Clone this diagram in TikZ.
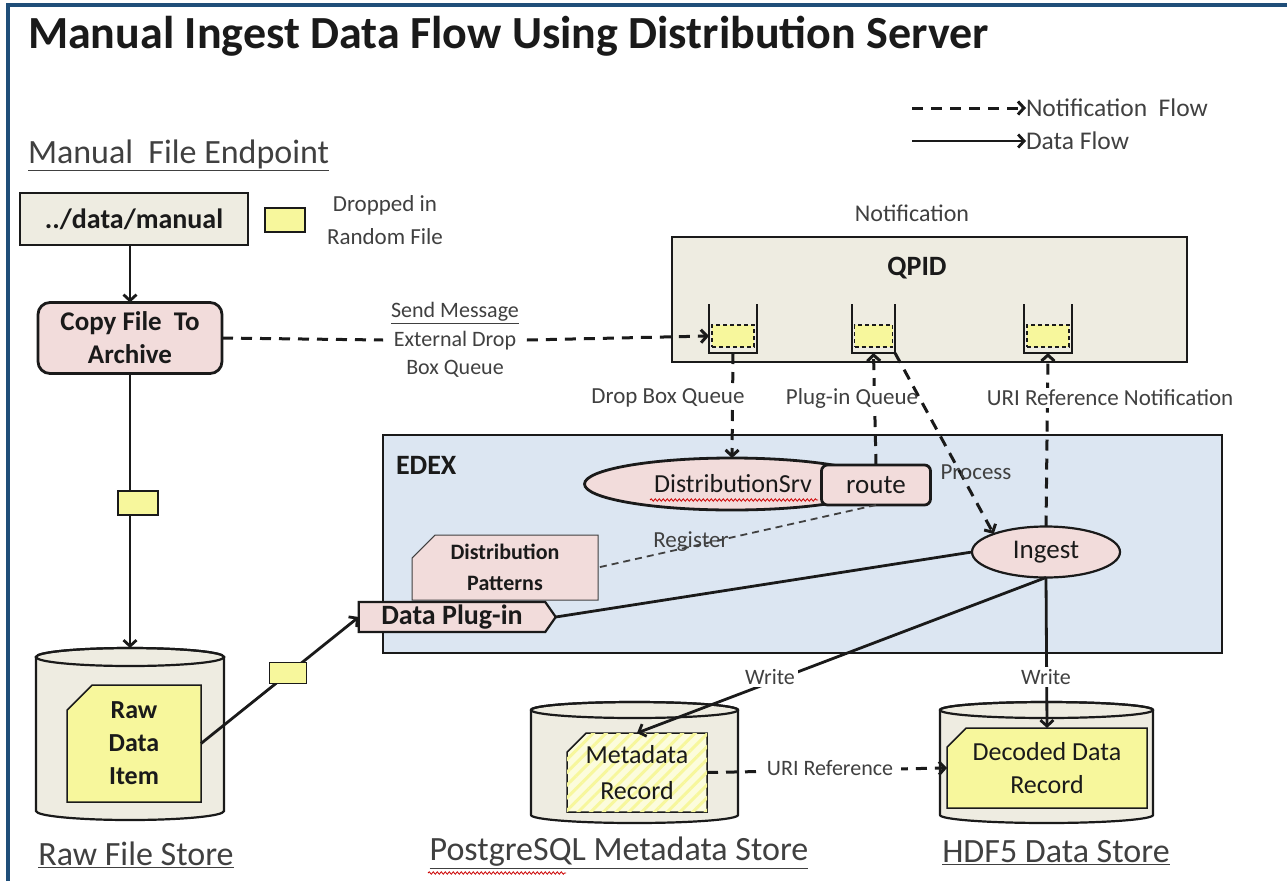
\documentclass[tikz,border=0pt]{standalone}
\usepackage{fontspec}
\setmainfont{Carlito}
\usetikzlibrary{shapes.geometric,shapes.misc,shapes.symbols,arrows.meta,patterns.meta,decorations.pathmorphing}
\definecolor{frameblue}{HTML}{1F4E79}
\definecolor{beige}{HTML}{EEECE1}
\definecolor{pinkf}{HTML}{F2DCDB}
\definecolor{edexblue}{HTML}{DCE6F2}
\definecolor{yel}{HTML}{F7F79C}
\definecolor{txt}{HTML}{404040}
\definecolor{dark}{HTML}{1A1A1A}
\newcommand\fsz[2]{\fontsize{#1pt}{#2pt}\selectfont}
\newcommand\drawcyl[5]{%
  \pgfmathsetmacro\cylrx{(#2-#1)/2}%
  \filldraw[cylst] (#1,#3) -- (#1,#4) arc[start angle=180,end angle=360,x radius=\cylrx pt,y radius=#5pt] -- (#2,#3) arc[start angle=0,end angle=180,x radius=\cylrx pt,y radius=#5pt] -- cycle;
  \draw[cylst,fill=none] ({(#1+#2)/2},#3) ellipse[x radius=\cylrx pt,y radius=#5pt];
}
\begin{document}
\begin{tikzpicture}[x=1pt,y=-1pt,
  every node/.style={inner sep=0pt,outer sep=0pt},
  lbl/.style={font=\fsz{23}{28}, text=txt, align=center},
  wlbl/.style={lbl, fill=white, inner xsep=3pt, inner ysep=2pt},
  bigl/.style={font=\fsz{34}{40}, text=txt},
  bbox/.style={draw=dark, line width=2pt, fill=beige, text=dark, align=center},
  pbox/.style={draw=dark, line width=2.8pt, fill=pinkf, text=dark, align=center},
  chamf/.style={chamfered rectangle, chamfered rectangle corners=north west, draw=dark, line width=1.5pt, align=center, text=dark},
  fileicon/.style={chamfered rectangle, chamfered rectangle corners=north west, chamfered rectangle xsep=7pt, draw=dark, line width=1.2pt, fill=yel, minimum width=40pt, minimum height=24pt},
  qbox/.style={minimum height=49pt},
  qline/.style={draw=dark, line width=2.8pt},
  qmsg/.style={draw=dark, dash pattern=on 4pt off 3pt, line width=1.3pt, fill=yel, minimum height=22pt},
  cylst/.style={draw=dark, line width=2.2pt, fill=beige},
  data/.style={draw=dark, line width=2.8pt},
  dataA/.style={data, -{Straight Barb[length=6pt,width=13pt]}},
  notif/.style={draw=dark, line width=3pt, dash pattern=on 11pt off 8pt},
  notifA/.style={notif, -{Straight Barb[length=6pt,width=13pt]}},
  reg/.style={draw=txt, line width=1.8pt, dash pattern=on 7pt off 5pt},
  squig/.style={draw=red!80!black, line width=0.8pt, decorate, decoration={snake, amplitude=1.2pt, segment length=4pt}}
]
\useasboundingbox (0,0) rectangle (1287,881);
\fill[white] (0,0) rectangle (1287,881);
\draw[frameblue, line width=4pt] (8,881) -- (8,5) -- (1287,5);

% titles and legend
\node[anchor=west, font=\bfseries\fsz{46}{54}, text=dark] (title) at (28,36) {Manual Ingest Data Flow Using Distribution Server};
\node[anchor=west, bigl] (mfe) at (28,155) {\underline{Manual\ \ File Endpoint}};
\coordinate (lg1) at (912,108);
\coordinate (lg2) at (912,141);
\node[anchor=west, font=\fsz{25.5}{30}, text=txt] (lgn) at (1026,108) {Notification\ \ Flow};
\node[anchor=west, font=\fsz{25.5}{30}, text=txt] (lgd) at (1026,141) {Data Flow};
\draw[notifA] (lg1) -- (lgn.west);
\draw[dataA] (lg2) -- (lgd.west);

% backgrounds
\node[draw=dark, line width=2.8pt, fill=edexblue, minimum width=839pt, minimum height=218pt] (edex) at (802.5,544) {};
\node[anchor=west, font=\bfseries\fsz{28}{34}, text=dark] (edexl) at (396,465) {EDEX};
\node[draw=dark, line width=2.8pt, fill=beige, minimum width=515pt, minimum height=125pt] (qpid) at (929.5,299.5) {};
\node[font=\bfseries\fsz{28}{34}, text=dark] (qpidl) at (917,268) {QPID};
\node[font=\fsz{24}{28}, text=txt] (notifl) at (912,213) {Notification};

% queues
\node[qbox, minimum width=48pt] (q1) at (733,328.5) {};
\node[qbox, minimum width=43pt] (q2) at (873.5,328.5) {};
\node[qbox, minimum width=48pt] (q3) at (1048,328.5) {};
\node[qmsg, minimum width=42pt] (qm1) at (733,336) {};
\node[qmsg, minimum width=38pt] (qm2) at (873.5,336) {};
\node[qmsg, minimum width=42pt] (qm3) at (1048,336) {};
\draw[qline] (q1.north west) -- (q1.south west) -- (q1.south east) -- (q1.north east);
\draw[qline] (q2.north west) -- (q2.south west) -- (q2.south east) -- (q2.north east);
\draw[qline] (q3.north west) -- (q3.south west) -- (q3.south east) -- (q3.north east);

% left column
\node[bbox, font=\bfseries\fsz{28}{34}, minimum width=228pt, minimum height=52pt] (dm) at (134,219) {../data/manual};
\node[fileicon] (ic1) at (285,220) {};
\node[lbl, font=\fsz{23}{33}] (dropl) at (385,220) {Dropped in\\Random File};
\node[pbox, rounded corners=12pt, font=\bfseries\fsz{27}{33}, minimum width=184pt, minimum height=71pt] (copy) at (130,338) {Copy File\ \ To\\Archive};
\node[lbl, font=\fsz{22}{28.5}, inner xsep=8pt] (sm) at (455,340) {\underline{Send Message}\\External Drop\\Box Queue};

% raw store
\node[minimum width=188pt, minimum height=172pt] (rawc) at (130,734) {};
\drawcyl{36}{224}{657}{811}{9}
\node[chamf, fill=yel, chamfered rectangle xsep=22pt, minimum width=134pt, minimum height=117pt, font=\bfseries\fsz{26}{33}] (rawdoc) at (134,743.5) {Raw\\Data\\Item};
\node[bigl] (rawl) at (136,855) {\underline{Raw File Store}};

% postgres store
\node[minimum width=207pt, minimum height=122pt] (pgc) at (634.5,762) {};
\drawcyl{531}{738}{710}{815}{8}
\node[chamf, fill=yel!35, postaction={pattern={Lines[angle=45,distance=9pt,line width=3pt]}, pattern color=yel}, chamfered rectangle xsep=16pt, minimum width=140pt, minimum height=79pt, font=\fsz{26}{36}] (meta) at (637,772.5) {Metadata\\Record};
\node[bigl] (pgl) at (619,853) {\underline{PostgreSQL Metadata Store}};
\draw[squig] (428,873) -- (566,873);

% hdf5 store
\node[minimum width=213pt, minimum height=122pt] (hdc) at (1046.5,762) {};
\drawcyl{940}{1153}{710}{815}{8}
\node[chamf, fill=yel, chamfered rectangle xsep=16pt, minimum width=200pt, minimum height=80pt, font=\fsz{26}{33}] (decoded) at (1047,768) {Decoded Data\\Record};
\node[bigl] (hdl) at (1056,853) {\underline{HDF5 Data Store}};

% EDEX content
\node[ellipse, draw=dark, line width=2.8pt, fill=pinkf, minimum width=295pt, minimum height=52pt] (dsrv) at (732,484) {};
\node[font=\fsz{26}{30}, text=dark] (dsrvl) at (733,484) {DistributionSrv};
\draw[squig] (650,500) -- (818,500);
\node[pbox, rounded corners=6pt, minimum width=109pt, minimum height=40pt, font=\fsz{27}{30}] (route) at (876,485) {route};
\node[chamf, fill=pinkf, line width=1pt, draw=txt, chamfered rectangle xsep=20pt, minimum width=186pt, minimum height=65pt, font=\bfseries\fsz{22}{31}] (distpat) at (505,567.5) {Distribution\\Patterns};
\node[signal, signal to=east, signal pointer angle=110, draw=dark, line width=2.2pt, fill=pinkf, minimum width=197pt, minimum height=30pt, font=\bfseries\fsz{28}{30}, text=dark, inner xsep=8pt] (plugin) at (452,617) {Data Plug-in};
\node[ellipse, draw=dark, line width=2.2pt, fill=pinkf, minimum width=148pt, minimum height=51pt, font=\fsz{27}{30}, text=dark] (ingest) at (1046,552) {Ingest};

% connectors
\draw[dataA] (copy.north |- dm.south) -- (copy.north);
\draw[dataA] (copy.south) -- (copy.south |- rawc.north);
\node[fileicon] (ic2) at (138,503) {};
\draw[notif] (copy.east) -- (sm.west);
\draw[notifA] (sm.east) -- (q1.west |- qm1.center);
\draw[notifA] (q1.south) -- (dsrv.north);
\draw[notifA] (route.north) -- (q2.south);
\draw[notifA] (ingest.north) -- (q3.south);
\node[wlbl] (lq1) at (668,398) {Drop Box Queue};
\node[wlbl] (lq2) at (852,398) {Plug-in Queue};
\node[wlbl] (lq3) at (1110,398) {URI Reference Notification};
\draw[notifA] (q2.south east) -- (ingest.north west);
\node[lbl] (procl) at (976,472) {Process};
\draw[reg] (route.south) -- (distpat.east);
\node[lbl] (regl) at (691,542) {Register};
\draw[data] (plugin.east) -- (ingest.west);
\draw[dataA] (rawdoc.east) -- (plugin.west);
\node[fileicon, minimum width=37pt, minimum height=21pt] (ic3) at (288,673) {};
\draw[dataA] (ingest.south) -- (meta.north);
\draw[dataA] (ingest.south) -- (decoded.north);
\node[wlbl, font=\fsz{22}{26}] (w1) at (770,677) {Write};
\node[wlbl, font=\fsz{22}{26}] (w2) at (1046,677) {Write};
\draw[notifA] (meta.east) -- (decoded.west);
\node[wlbl, font=\fsz{22}{26}, inner xsep=8pt] (uril) at (830,768) {URI Reference};
\end{tikzpicture}
\end{document}
